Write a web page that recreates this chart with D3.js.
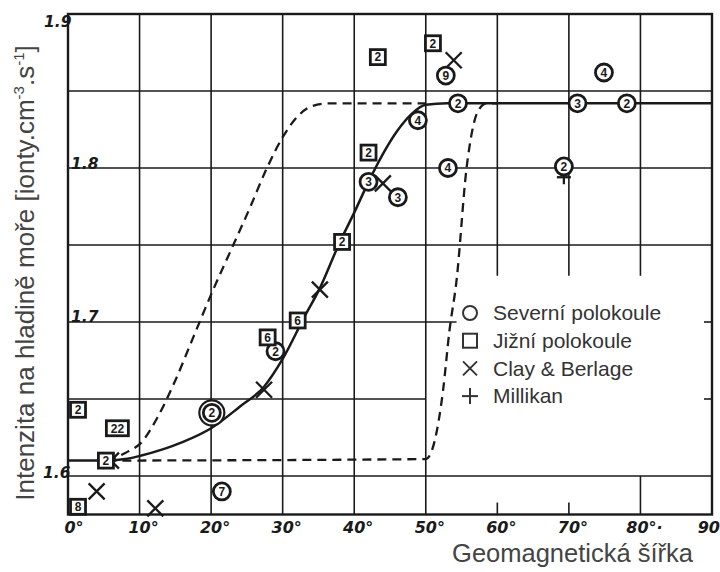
<!DOCTYPE html>
<html lang="cs">
<head>
<meta charset="UTF-8">
<title>Intenzita na hladině moře</title>
<script src="https://d3js.org/d3.v7.min.js"></script>
<style>
  body { margin: 0; background: #fff; }
  svg { display: block; }
</style>
</head>
<body>
<script>
// ---- data ----
const xTicks = [0, 10, 20, 30, 40, 50, 60, 70, 80, 90];
const xTickLabels = ["0°", "10°", "20°", "30°", "40°", "50°", "60°", "70°", "80°·", "90"];
const yTicks = [1.6, 1.7, 1.8, 1.9];
const yTickLabels = ["1.6", "1.7", "1.8", "1.9"];

// Severní polokoule (kroužky): [šířka, intenzita, počet, dvojitý]
const severni = [
  [20.1, 1.641, "2", true], [21.5, 1.590, "7"], [29.0, 1.681, "2"],
  [42.0, 1.791, "3"], [46.1, 1.781, "3"], [48.9, 1.831, "4"],
  [52.8, 1.860, "9"], [54.5, 1.842, "2"], [53.1, 1.800, "4"],
  [71.2, 1.842, "3"], [78.1, 1.842, "2"], [74.9, 1.862, "4"],
  [69.3, 1.801, "2"]
];
// Jižní polokoule (čtverečky)
const jizni = [
  [1.4, 1.643, "2"], [6.9, 1.631, "22"], [5.3, 1.610, "2"], [1.4, 1.580, "8"],
  [27.9, 1.690, "6"], [32.1, 1.701, "6"], [38.3, 1.752, "2"],
  [42.0, 1.810, "2"], [43.3, 1.872, "2"], [51.0, 1.881, "2"]
];
// Clay & Berlage (křížky)
const clay = [
  [4.0, 1.590], [12.2, 1.579], [6.0, 1.610], [27.4, 1.656],
  [35.2, 1.721], [44.0, 1.790], [53.9, 1.870]
];
// Millikan
const millikan = [[69.3, 1.794]];

// plná křivka
const solidCurve = [
  [0, 1.610], [5, 1.610], [8, 1.611], [10, 1.613], [13, 1.617], [16, 1.622],
  [20, 1.631], [24, 1.645], [27.4, 1.658], [30, 1.676], [33, 1.703],
  [35.2, 1.722], [38, 1.752], [40, 1.771], [42, 1.791], [44, 1.809],
  [46, 1.824], [48, 1.835], [50, 1.841], [53, 1.842], [90, 1.842]
];
// čárkovaná křivka vlevo
const dashLeft = [
  [5.5, 1.610], [8, 1.615], [10.3, 1.622], [12.5, 1.638], [14.9, 1.661],
  [17.5, 1.690], [20.2, 1.720], [23, 1.749], [25.5, 1.775], [27.8, 1.800],
  [30, 1.820], [32, 1.833], [34, 1.840], [36.5, 1.842], [50, 1.842]
];
// čárkovaná křivka vpravo
const dashRight = [
  [5.5, 1.610], [50, 1.611], [51.2, 1.622], [52.4, 1.655], [53.3, 1.694],
  [54.3, 1.727], [55.7, 1.800], [56.4, 1.822], [57.2, 1.836], [58.5, 1.842],
  [60, 1.842]
];

// ---- layout ----
const W = 720, H = 572;
const svg = d3.select("body").append("svg").attr("width", W).attr("height", H);

const x = d3.scaleLinear().domain([0, 90]).range([68, 712]);
const y = d3.scaleLinear().domain([1.6, 1.9]).range([476, 14]);
const yMin = 1.575;
const ink = "#1a1a1a";

// mřížka
const g = svg.append("g").attr("stroke", ink).attr("stroke-width", 1.6).attr("fill", "none");

// vodorovné čáry: [hodnota, do šířky]
const hLines = [[1.85, 90], [1.8, 90], [1.75, 90], [1.7, 54.3], [1.65, 50], [1.6, 90]];
hLines.forEach(([v, to]) => {
  g.append("line").attr("x1", x(0)).attr("x2", x(to)).attr("y1", y(v)).attr("y2", y(v));
});
// značky na pravé straně
[1.7, 1.65].forEach(v => {
  g.append("line").attr("x1", x(90) - 8).attr("x2", x(90)).attr("y1", y(v)).attr("y2", y(v));
});

// svislé čáry: [šířka, od, do]
const vLines = [[10, yMin, 1.9], [20, yMin, 1.9], [30, yMin, 1.9], [40, yMin, 1.9],
  [50, yMin, 1.9], [60, 1.73, 1.9], [70, 1.73, 1.9], [80, 1.73, 1.9], [80, yMin, 1.6]];
vLines.forEach(([v, a, b]) => {
  g.append("line").attr("x1", x(v)).attr("x2", x(v)).attr("y1", y(a)).attr("y2", y(b));
});
// krátké značky dole
[60, 70].forEach(v => {
  g.append("line").attr("x1", x(v)).attr("x2", x(v)).attr("y1", y(yMin)).attr("y2", y(yMin) - 12);
});

// rámeček
svg.append("rect")
  .attr("x", x(0)).attr("y", y(1.9))
  .attr("width", x(90) - x(0)).attr("height", y(yMin) - y(1.9))
  .attr("fill", "none").attr("stroke", ink).attr("stroke-width", 2.4);

// popisky os
svg.append("g").selectAll("text").data(xTicks).join("text")
  .attr("x", (d, i) => i === 9 ? 720 : x(d) + (i === 0 ? 6 : 4))
  .attr("y", 533)
  .attr("text-anchor", (d, i) => i === 9 ? "end" : "middle")
  .attr("font-family", "DejaVu Sans")
  .attr("font-style", "italic")
  .attr("font-weight", "bold")
  .attr("font-size", 16)
  .attr("fill", ink)
  .text((d, i) => xTickLabels[i]);

const yLabelPos = { "1.9": [44, 27], "1.8": [71, 169], "1.7": [71, 322], "1.6": [43, 478] };
svg.append("g").selectAll("text").data(yTicks).join("text")
  .attr("x", (d, i) => yLabelPos[yTickLabels[i]][0])
  .attr("y", (d, i) => yLabelPos[yTickLabels[i]][1])
  .attr("font-family", "DejaVu Sans")
  .attr("font-style", "italic")
  .attr("font-weight", "bold")
  .attr("font-size", 15.5)
  .attr("fill", ink)
  .text((d, i) => yTickLabels[i]);

// křivky
const line = d3.line().x(d => x(d[0])).y(d => y(d[1])).curve(d3.curveMonotoneX);
svg.append("path").datum(dashRight).attr("d", line)
  .attr("fill", "none").attr("stroke", ink).attr("stroke-width", 2.3).attr("stroke-dasharray", "9,6");
svg.append("path").datum(dashLeft).attr("d", line)
  .attr("fill", "none").attr("stroke", ink).attr("stroke-width", 2.3).attr("stroke-dasharray", "9,6");
svg.append("path").datum(solidCurve).attr("d", line)
  .attr("fill", "none").attr("stroke", ink).attr("stroke-width", 2.5);

// Clay & Berlage
clay.forEach(d => {
  const c = svg.append("g").attr("transform", `translate(${x(d[0])},${y(d[1])})`)
    .attr("stroke", ink).attr("stroke-width", 2.3);
  c.append("line").attr("x1", -8).attr("y1", -8).attr("x2", 8).attr("y2", 8);
  c.append("line").attr("x1", -8).attr("y1", 8).attr("x2", 8).attr("y2", -8);
});

// Millikan
millikan.forEach(d => {
  const p = svg.append("g").attr("transform", `translate(${x(d[0])},${y(d[1])})`)
    .attr("stroke", ink).attr("stroke-width", 2.3);
  p.append("line").attr("x1", -7).attr("x2", 7);
  p.append("line").attr("y1", -7).attr("y2", 7);
});

// kroužky
severni.forEach(d => {
  const c = svg.append("g").attr("transform", `translate(${x(d[0])},${y(d[1])})`);
  if (d[3]) c.append("circle").attr("r", 12.5).attr("fill", "#fff").attr("stroke", ink).attr("stroke-width", 2.2);
  c.append("circle").attr("r", 8.5).attr("fill", "#fff").attr("stroke", ink).attr("stroke-width", 2.8);
  c.append("text").attr("text-anchor", "middle").attr("dy", "0.36em")
    .attr("font-family", "Liberation Sans").attr("font-weight", "bold").attr("font-size", 12)
    .attr("fill", ink).text(d[2]);
});

// čtverečky
jizni.forEach(d => {
  const w = d[2].length > 1 ? 22 : 15;
  const c = svg.append("g").attr("transform", `translate(${x(d[0])},${y(d[1])})`);
  c.append("rect").attr("x", -w / 2).attr("y", -7.5).attr("width", w).attr("height", 15)
    .attr("fill", "#fff").attr("stroke", ink).attr("stroke-width", 2.8);
  c.append("text").attr("text-anchor", "middle").attr("dy", "0.36em")
    .attr("font-family", "Liberation Sans").attr("font-weight", "bold").attr("font-size", 12)
    .attr("fill", ink).text(d[2]);
});

// legenda
const legendItems = ["Severní polokoule", "Jižní polokoule", "Clay & Berlage", "Millikan"];
const st = "#333";
const leg = svg.append("g").attr("transform", "translate(470,313)")
  .attr("stroke-width", 2);
legendItems.forEach((t, i) => {
  const row = leg.append("g").attr("transform", `translate(0,${i * 27.7})`);
  if (i === 0) row.append("circle").attr("r", 7).attr("fill", "none").attr("stroke", st);
  if (i === 1) row.append("rect").attr("x", -7).attr("y", -7).attr("width", 14).attr("height", 14)
    .attr("fill", "none").attr("stroke", st);
  if (i === 2) {
    row.append("line").attr("x1", -7).attr("y1", -7).attr("x2", 7).attr("y2", 7).attr("stroke", st);
    row.append("line").attr("x1", -7).attr("y1", 7).attr("x2", 7).attr("y2", -7).attr("stroke", st);
  }
  if (i === 3) {
    row.append("line").attr("x1", -8).attr("x2", 8).attr("stroke", st);
    row.append("line").attr("y1", -8).attr("y2", 8).attr("stroke", st);
  }
  row.append("text").attr("x", 23).attr("dy", "0.35em")
    .attr("font-family", "Liberation Sans").attr("font-size", 21).attr("fill", st).text(t);
});

// názvy os
svg.append("text")
  .attr("x", 693).attr("y", 562).attr("text-anchor", "end")
  .attr("font-family", "Liberation Sans").attr("font-size", 25.5).attr("fill", "#444")
  .text("Geomagnetická šířka");

const yt = svg.append("text")
  .attr("transform", "translate(34,273) rotate(-90)")
  .attr("text-anchor", "middle")
  .attr("font-family", "Liberation Sans").attr("font-size", 26).attr("fill", "#444");
yt.append("tspan").text("Intenzita na hladině moře [ionty.cm");
yt.append("tspan").attr("font-size", 15).attr("dy", -10).text("-3");
yt.append("tspan").attr("dy", 10).text(".s");
yt.append("tspan").attr("font-size", 15).attr("dy", -10).text("-1");
yt.append("tspan").attr("dy", 10).text("]");
</script>
</body>
</html>
